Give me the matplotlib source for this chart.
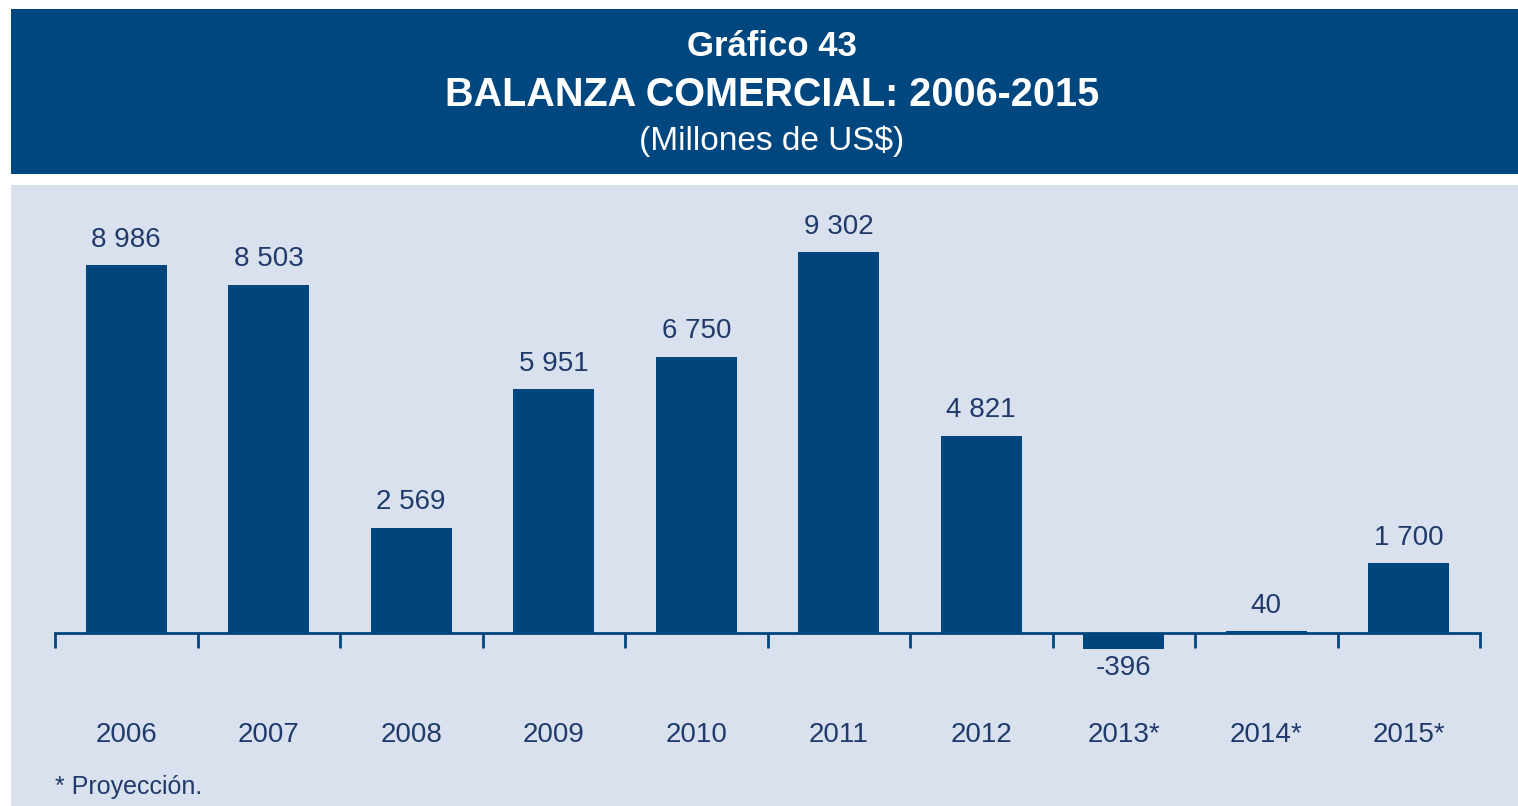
import matplotlib.pyplot as plt
import matplotlib.patches as patches

years = ["2006", "2007", "2008", "2009", "2010", "2011", "2012", "2013*", "2014*", "2015*"]
balance = [8986, 8503, 2569, 5951, 6750, 9302, 4821, -396, 40, 1700]
labels = ["8 986", "8 503", "2 569", "5 951", "6 750", "9 302", "4 821", "-396", "40", "1 700"]

plt.rcParams["font.family"] = ["Liberation Sans", "DejaVu Sans"]

navy = "#00457c"
txt = "#1f3a6b"
W, H = 1518, 806

fig = plt.figure(figsize=(W / 100, H / 100), dpi=100)
fig.patch.set_facecolor("white")

# header band and light panel, behind the axes
fig.add_artist(patches.Rectangle((11 / W, 1 - 174 / H), 1 - 11 / W, 165 / H, zorder=-5,
                                 transform=fig.transFigure, facecolor="#00467f", edgecolor="none"))
fig.add_artist(patches.Rectangle((11 / W, 0), 1 - 11 / W, 1 - 185 / H, zorder=-5,
                                 transform=fig.transFigure, facecolor="#dae1ee", edgecolor="none"))

fig.text(772 / W, 1 - 47 / H, "Gráfico 43", color="white", fontsize=25, fontweight="bold",
         ha="center", va="center")
fig.text(772 / W, 1 - 95 / H, "BALANZA COMERCIAL: 2006-2015", color="white", fontsize=28.5,
         fontweight="bold", ha="center", va="center")
fig.text(772 / W, 1 - 141 / H, "(Millones de US$)", color="white", fontsize=24,
         ha="center", va="center")

ax = fig.add_axes([55 / W, (H - 700) / H, 1425 / W, 500 / H])
ax.set_facecolor("none")
x = range(len(years))
ax.bar(x, balance, width=0.57, color=navy)
ax.set_xlim(-0.5, len(years) - 0.5)
ax.set_ylim(-1636, 10574)

for sp in ["top", "right", "left"]:
    ax.spines[sp].set_visible(False)
ax.spines["bottom"].set_position(("data", 0))
ax.spines["bottom"].set_color(navy)
ax.spines["bottom"].set_linewidth(2)
ax.set_yticks([])
ax.set_xticks([i - 0.5 for i in range(len(years) + 1)])
ax.set_xticklabels([])
ax.tick_params(axis="x", direction="out", length=11, width=2, color=navy)

for i, (v, lab) in enumerate(zip(balance, labels)):
    if v >= 0:
        ax.annotate(lab, (i, v), xytext=(0, 9), textcoords="offset points",
                    ha="center", va="bottom", fontsize=20, color=txt)
    else:
        ax.annotate(lab, (i, v), xytext=(0, -4), textcoords="offset points",
                    ha="center", va="top", fontsize=20, color=txt)

for i, yr in enumerate(years):
    ax.text(i, 1 - (735 - 200) / 500, yr, transform=ax.get_xaxis_transform(),
            ha="center", va="center", fontsize=20, color=txt)

fig.text(55 / W, 1 - 787 / H, "* Proyección.", fontsize=18, color=txt, ha="left", va="center")

fig.savefig("out.png", dpi=100)
